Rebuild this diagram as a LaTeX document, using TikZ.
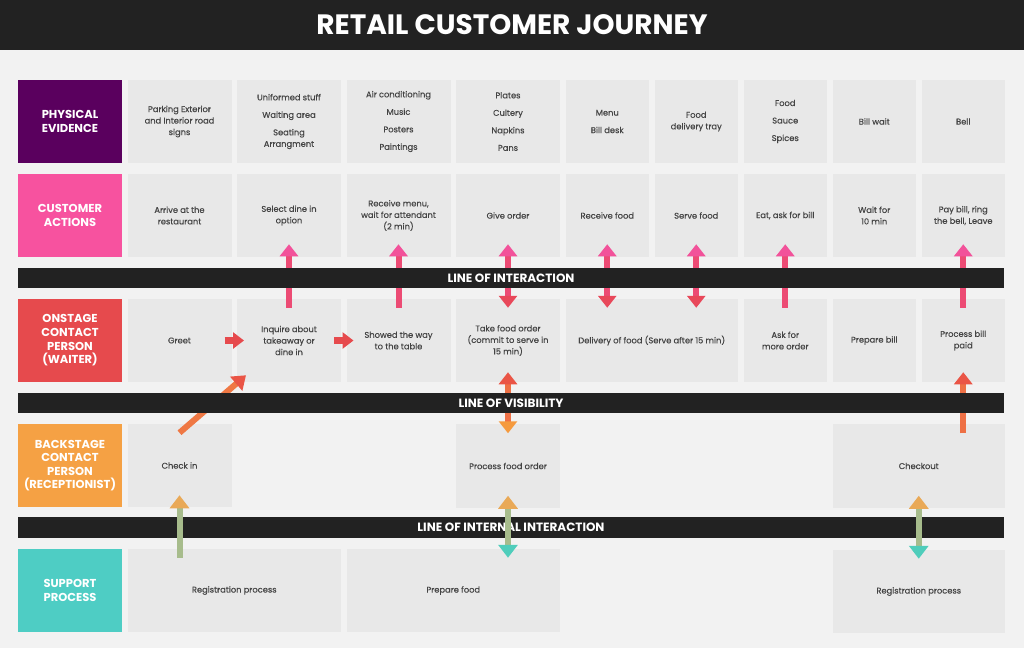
\documentclass[tikz,border=0pt]{standalone}
\usepackage{fontspec}
\setmainfont{Poppins}
\newfontfamily\cellfont{Poppins}[FakeBold=0.35]
\usetikzlibrary{positioning,arrows.meta}

\definecolor{bggray}{HTML}{F2F2F2}
\definecolor{cellgray}{HTML}{E8E8E8}
\definecolor{celltext}{HTML}{444444}
\definecolor{barblack}{HTML}{222222}
\definecolor{evidence}{HTML}{5A005E}
\definecolor{customer}{HTML}{F7529F}
\definecolor{onstage}{HTML}{E64A4D}
\definecolor{backstage}{HTML}{F5A144}
\definecolor{support}{HTML}{4ECDC4}
\definecolor{iapink}{HTML}{F2529A}
\definecolor{iared}{HTML}{E8485A}
\definecolor{iashaft}{HTML}{EC4B74}
\definecolor{visred}{HTML}{EA5546}
\definecolor{visorange}{HTML}{F59A3E}
\definecolor{visshaft}{HTML}{EE7045}
\definecolor{intorange}{HTML}{E9A957}
\definecolor{intteal}{HTML}{4FCDBB}
\definecolor{intshaft}{HTML}{A7BC8C}

\begin{document}
\begin{tikzpicture}[x=1pt,y=-1pt,node distance=5.5pt,
  lane/.style={minimum width=104pt,minimum height=83.5pt,inner sep=0pt,outer sep=0pt,align=center,
    text=white,font=\fontsize{11.5}{13.6}\selectfont\bfseries},
  cell/.style={fill=cellgray,minimum width=104pt,minimum height=83.5pt,inner sep=0pt,outer sep=0pt,
    align=center,text=celltext,font=\fontsize{8.3}{11.5}\selectfont\cellfont},
  small cell/.style={cell,minimum width=83.5pt},
  span cell/.style={cell,minimum width=172.5pt},
  wide cell/.style={cell,minimum width=213.5pt},
  bar/.style={fill=barblack,minimum width=986pt,minimum height=20.5pt,inner sep=0pt,outer sep=0pt,
    text=white,font=\fontsize{12}{13}\selectfont\bfseries},
  ia up/.style={line width=6pt,iashaft,shorten <=-9pt,shorten >=-13pt,
    -{Triangle[width=18pt,length=12pt,color=iapink]}},
  ia both/.style={ia up,{Triangle[width=18pt,length=12pt,color=iared]}-{Triangle[width=18pt,length=12pt,color=iapink]}},
  vis up/.style={line width=6pt,visshaft,shorten <=-9pt,shorten >=-10pt,
    -{Triangle[width=18pt,length=12pt,color=visred]}},
  vis both/.style={vis up,{Triangle[width=18pt,length=12pt,color=visorange]}-{Triangle[width=18pt,length=12pt,color=visred]}},
  int up/.style={line width=6pt,intshaft,shorten <=-9pt,shorten >=-12pt,
    -{Triangle[width=19pt,length=13pt,color=intorange]}},
  int both/.style={int up,{Triangle[width=19pt,length=13pt,color=intteal]}-{Triangle[width=19pt,length=13pt,color=intorange]}},
  step link/.style={line width=7pt,onstage,shorten <=-7pt,shorten >=-7pt,
    -{Triangle[width=16pt,length=11pt]}},
  diag link/.style={line width=6pt,visshaft!80!visorange,
    -{Triangle[width=18pt,length=13pt,color=visred]}}]

  \fill[bggray] (0,0) rectangle (1024,648);
  \node[fill=barblack,minimum width=1024pt,minimum height=50pt,inner sep=0pt,text=white,
    font=\fontsize{28}{30}\selectfont\bfseries] (title) at (512,25) {RETAIL CUSTOMER JOURNEY};

  \node[lane,fill=evidence]  (pe) at (70,121.5) {PHYSICAL\\EVIDENCE};
  \node[lane,fill=customer]  (ca) at (70,215.5) {CUSTOMER\\ACTIONS};
  \node[lane,fill=onstage]   (oc) at (70,340.5) {ONSTAGE\\CONTACT\\PERSON\\(WAITER)};
  \node[lane,fill=backstage] (bc) at (70,465.5) {BACKSTAGE\\CONTACT\\PERSON\\(RECEPTIONIST)};
  \node[lane,fill=support]   (sp) at (70,590.5) {SUPPORT\\PROCESS};

  \node[cell]       (parking) [right=of pe]      {Parking Exterior\\and Interior road\\signs};
  \node[cell]       (staff)   [right=of parking] {Uniformed stuff\\[6pt]Waiting area\\[6pt]Seating\\Arrangment};
  \node[cell]       (music)   [right=of staff]   {Air conditioning\\[6pt]Music\\[6pt]Posters\\[6pt]Paintings};
  \node[cell]       (plates)  [right=of music]   {Plates\\[6pt]Cultery\\[6pt]Napkins\\[6pt]Pans};
  \node[small cell] (menu)    [right=of plates]  {Menu\\[6pt]Bill desk};
  \node[small cell] (tray)    [right=of menu]    {Food\\delivery tray};
  \node[small cell] (sauce)   [right=of tray]    {Food\\[6pt]Sauce\\[6pt]Spices};
  \node[small cell] (billw)   [right=of sauce]   {Bill wait};
  \node[small cell] (bell)    [right=of billw]   {Bell};

  \node[cell]       (arrive)  [right=of ca]      {Arrive at the\\restaurant};
  \node[cell]       (select)  [right=of arrive]  {Select dine in\\option};
  \node[cell]       (getmenu) [right=of select]  {Receive menu,\\wait for attendant\\(2 min)};
  \node[cell]       (give)    [right=of getmenu] {Give order};
  \node[small cell] (getfood) [right=of give]    {Receive food};
  \node[small cell] (serve)   [right=of getfood] {Serve food};
  \node[small cell] (eat)     [right=of serve]   {Eat, ask for bill};
  \node[small cell] (wait)    [right=of eat]     {Wait for\\10 min};
  \node[small cell] (pay)     [right=of wait]    {Pay bill, ring\\the bell, Leave};

  \node[cell]       (greet)   [right=of oc]      {Greet};
  \node[cell]       (inquire) [right=of greet]   {Inquire about\\takeaway or\\dine in};
  \node[cell]       (showed)  [right=of inquire] {Showed the way\\to the table};
  \node[cell]       (take)    [right=of showed]  {Take food order\\(commit to serve in\\15 min)};
  \node[span cell]  (deliver) [right=of take]    {Delivery of food (Serve after 15 min)};
  \node[small cell] (ask)     [right=of deliver] {Ask for\\more order};
  \node[small cell] (prepare) [right=of ask]     {Prepare bill};
  \node[small cell] (process) [right=of prepare] {Process bill\\paid};

  \node[cell]       (checkin) [right=of bc]      {Check in};
  \node[cell]       (order)   [below=42pt of take] {Process food order};
  \node[span cell]  (checkout) [below=42pt of prepare.south west,anchor=north west] {Checkout};

  \node[wide cell]  (regist)  [right=of sp]      {Registration process};
  \node[wide cell]  (cook)    [right=of regist]  {Prepare food};
  \node[span cell]  (regout)  [below=42pt of checkout] {Registration process};

  \draw[ia up]   (inquire.north) -- (select.south);
  \draw[ia up]   (showed.north) -- (getmenu.south);
  \draw[ia both] (take.north) -- (give.south);
  \draw[ia both] (getfood.south |- deliver.north) -- (getfood.south);
  \draw[ia both] (serve.south |- deliver.north) -- (serve.south);
  \draw[ia up]   (ask.north) -- (eat.south);
  \draw[ia up]   (process.north) -- (pay.south);

  \draw[step link] (greet.east) -- (inquire.west);
  \draw[step link] (inquire.east) -- (showed.west);

  \draw[diag link] ([yshift=-9pt]checkin.north) -- ([shift={(9pt,7pt)}]inquire.south west);
  \draw[vis both]  (order.north) -- (take.south);
  \draw[vis up]    (process.south |- checkout.north) -- (process.south);

  \node[bar] (interaction) at (511,278)   {LINE OF INTERACTION};
  \node[bar] (visibility)  at (511,403)   {LINE OF VISIBILITY};
  \node[bar] (internal)    at (511,527.5) {LINE OF INTERNAL INTERACTION};

  \draw[int up]   (checkin.south |- regist.north) -- (checkin.south);
  \draw[int both] (order.south |- cook.north) -- (order.south);
  \draw[int both] (regout.north) -- (checkout.south);
\end{tikzpicture}
\end{document}
